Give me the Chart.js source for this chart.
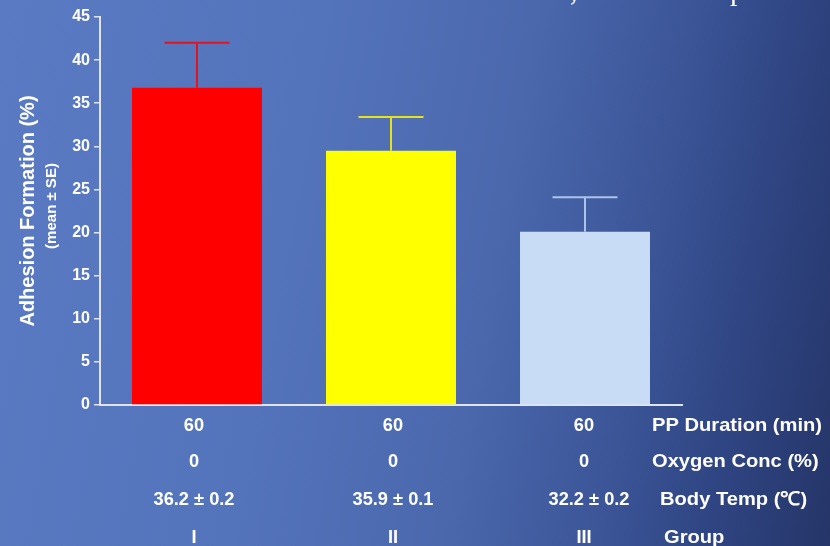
<!DOCTYPE html>
<html>
<head>
<meta charset="utf-8">
<script src="https://cdn.jsdelivr.net/npm/chart.js@4/dist/chart.umd.min.js"></script>
<style>
  html, body { margin: 0; padding: 0; }
  body {
    width: 830px; height: 546px; overflow: hidden;
    background: linear-gradient(100deg, #5a7bc3 0%, #5373bb 35%, #4b68ad 58%, #3b5597 75%, #2e4380 88%, #253568 100%);
  }
  #wrap { position: relative; width: 830px; height: 546px; }
</style>
</head>
<body>
<div id="wrap"><canvas id="chart" width="830" height="546"></canvas></div>
<script>
// Groups and measured adhesion formation (mean ± SE)
const groups = ['I', 'II', 'III'];
const adhesion = [36.8, 29.5, 20.1];
const adhesionSE = [5.2, 3.9, 4.0];

// Experimental conditions per group
const ppDuration = ['60', '60', '60'];
const oxygenConc = ['0', '0', '0'];
const bodyTemp = ['36.2 ± 0.2', '35.9 ± 0.1', '32.2 ± 0.2'];
const rowLabels = ['PP Duration (min)', 'Oxygen Conc (%)', 'Body Temp (\u2103)', 'Group'];

const barColors = ['#ff0000', '#ffff00', '#c8dcf6'];
const errColors = ['#e4141e', '#e6e21a', '#aac4ec'];

const FONT = '"Liberation Sans", Arial, Helvetica, sans-serif';

// Upward-only error bars drawn on top of each bar
const errorBars = {
  id: 'errorBars',
  afterDatasetsDraw(chart) {
    const ctx = chart.ctx;
    const y = chart.scales.y;
    const meta = chart.getDatasetMeta(0);
    ctx.save();
    meta.data.forEach((bar, i) => {
      const top = y.getPixelForValue(adhesion[i] + adhesionSE[i]);
      const base = y.getPixelForValue(adhesion[i]);
      const half = bar.width / 4;
      ctx.strokeStyle = errColors[i];
      ctx.lineWidth = 2;
      ctx.beginPath();
      ctx.moveTo(bar.x, base);
      ctx.lineTo(bar.x, top);
      ctx.moveTo(bar.x - half, top);
      ctx.lineTo(bar.x + half, top);
      ctx.stroke();
    });
    ctx.restore();
  }
};

// Table lettering with a horizontal stretch factor
function wideText(ctx, text, px, py, align, stretch) {
  ctx.save();
  ctx.translate(px, py);
  ctx.scale(stretch, 1);
  ctx.textAlign = align;
  ctx.fillText(text, 0, 0);
  ctx.restore();
}

// Axis titles, the conditions table under the bars, and the slide heading
const annotations = {
  id: 'annotations',
  afterDraw(chart) {
    const ctx = chart.ctx;
    const x = chart.scales.x;
    ctx.save();
    ctx.fillStyle = '#ffffff';

    // y-axis title
    ctx.save();
    ctx.translate(28, 211);
    ctx.rotate(-Math.PI / 2);
    ctx.textAlign = 'center';
    ctx.textBaseline = 'middle';
    ctx.font = 'bold 20px ' + FONT;
    ctx.fillText('Adhesion Formation (%)', 0, 0);
    ctx.font = 'bold 15px ' + FONT;
    ctx.fillText('(mean \u00b1 SE)', 5, 24);
    ctx.restore();

    // conditions table
    const rows = [ppDuration, oxygenConc, bodyTemp, groups];
    const rowY = [426, 462, 500, 538];
    const labelX = [652, 652, 660, 664];
    const colShift = [-3, 2, -1];
    ctx.font = 'bold 19px ' + FONT;
    ctx.textBaseline = 'middle';
    rows.forEach((vals, r) => {
      vals.forEach((v, i) => {
        const dx = (r === 2 && i === 2) ? 4 : colShift[i];
        wideText(ctx, v, x.getPixelForValue(i) + dx, rowY[r], 'center', 0.96);
      });
      wideText(ctx, rowLabels[r], labelX[r], rowY[r], 'left', 1.06);
    });

    // slide heading running above the top edge
    ctx.font = '30px "Liberation Serif", "Times New Roman", serif';
    ctx.textBaseline = 'alphabetic';
    ctx.textAlign = 'left';
    ctx.fillText(',', 570, 0);
    ctx.fillText('p', 730, 0);
    ctx.restore();
  }
};

const axisColor = '#dfe4ee';

new Chart(document.getElementById('chart'), {
  type: 'bar',
  data: {
    labels: groups,
    datasets: [{
      data: adhesion,
      backgroundColor: barColors,
      borderWidth: 0,
      barPercentage: 0.67,
      categoryPercentage: 1.0
    }]
  },
  options: {
    responsive: false,
    animation: false,
    layout: { padding: { top: 17, right: 148, bottom: 0, left: 0 } },
    plugins: {
      legend: { display: false },
      tooltip: { enabled: false }
    },
    scales: {
      x: {
        grid: { display: false },
        border: { display: true, color: axisColor, width: 2 },
        ticks: { display: false },
        afterFit(scale) { scale.height = 141; }
      },
      y: {
        min: 0,
        max: 45,
        ticks: {
          stepSize: 5,
          color: '#ffffff',
          padding: 4,
          font: { family: FONT, size: 16, weight: 'bold' }
        },
        grid: { drawOnChartArea: false, tickLength: 6, color: axisColor, lineWidth: 1.5 },
        border: { display: true, color: axisColor, width: 2 },
        afterFit(scale) { scale.width = 100; }
      }
    }
  },
  plugins: [errorBars, annotations]
});
</script>
</body>
</html>
